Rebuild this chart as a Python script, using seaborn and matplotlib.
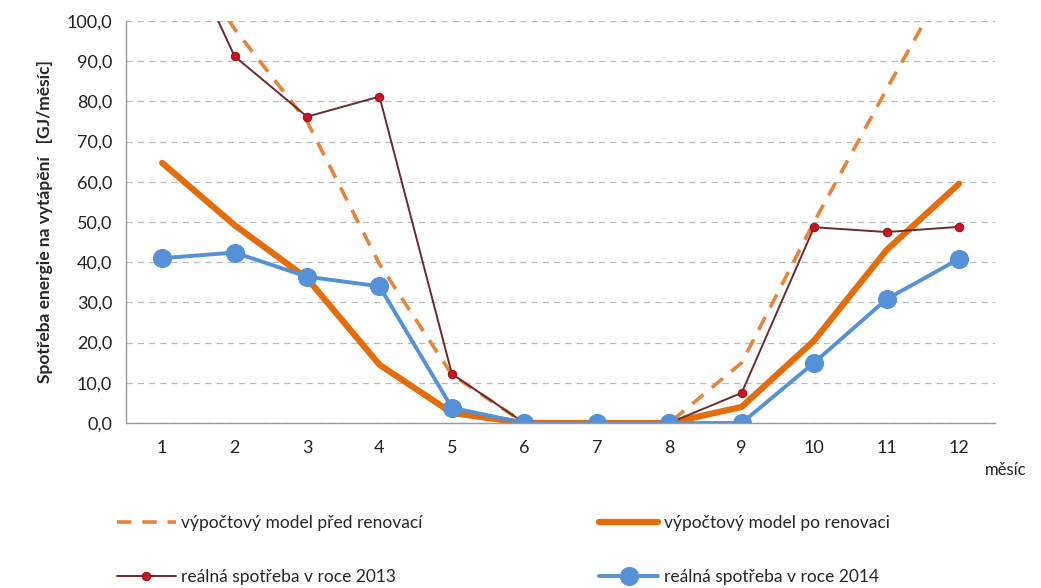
import numpy as np
import matplotlib
matplotlib.use("Agg")
import matplotlib.pyplot as plt
import seaborn as sns
from matplotlib.ticker import FuncFormatter, FixedLocator

# data
months = [1, 2, 3, 4, 5, 6, 7, 8, 9, 10, 11, 12]
model_before = [125.0, 98.0, 75.0, 39.5, 12.0, 0.0, 0.0, 0.0, 15.0, 50.0, 83.0, 115.0]
model_after = [64.7, 49.2, 36.0, 14.5, 2.5, 0.0, 0.0, 0.0, 4.0, 20.5, 43.0, 59.5]
real_2013 = [130.0, 91.2, 76.2, 81.2, 12.2, 0.0, 0.0, 0.0, 7.5, 48.7, 47.5, 48.8]
real_2014 = [41.0, 42.4, 36.4, 34.0, 3.8, 0.0, 0.0, 0.0, 0.0, 15.0, 30.8, 40.8]

labels = ["výpočtový model před renovací", "výpočtový model po renovaci",
          "reálná spotřeba v roce 2013", "reálná spotřeba v roce 2014"]

sns.set_style("white")
plt.rcParams['font.family'] = ['Lato', 'DejaVu Sans']

fig = plt.figure(figsize=(10.41, 5.88), dpi=100)
ax = fig.add_axes([0.121, 0.2806, 0.835, 0.6837])

# dashed model before renovation
sns.lineplot(x=months, y=model_before, ax=ax, color="#E8843A", lw=2.6,
             dashes=False, label=labels[0])
ax.lines[-1].set_linestyle((0, (4, 3)))
sns.lineplot(x=months, y=model_after, ax=ax, color="#E46C0A", lw=4.5,
             label=labels[1])
sns.lineplot(x=months, y=real_2013, ax=ax, color="#6B2A2E", lw=1.4,
             marker="o", markersize=6, markerfacecolor="#D40F1E",
             markeredgecolor="#8B1A1A", markeredgewidth=0.8, label=labels[2])
sns.lineplot(x=months, y=real_2014, ax=ax, color="#5591D6", lw=2.8,
             marker="o", markersize=13, markerfacecolor="#5591D6",
             markeredgecolor="#5591D6", label=labels[3])

ax.set_xlim(0.5, 12.5)
ax.set_ylim(0, 100)
ax.set_yticks(np.arange(0, 101, 10))
ax.yaxis.set_major_formatter(FuncFormatter(lambda v, p: f"{v:.1f}".replace(".", ",")))
ax.set_xticks(months)
ax.set_xticklabels([str(m) for m in months])
ax.xaxis.set_minor_locator(FixedLocator(np.arange(0.5, 13, 1)))
ax.tick_params(axis="x", which="major", length=0, pad=12, labelsize=13, colors="#222222")
ax.tick_params(axis="x", which="minor", length=6, width=1, color="#999999", direction="out")
ax.tick_params(axis="y", length=0, pad=10, labelsize=13, colors="#222222")

ax.grid(axis="y", linestyle=(0, (5, 4)), color="#BBBBBB", lw=0.9)
ax.grid(axis="x", visible=False)
for side in ["top", "right"]:
    ax.spines[side].set_visible(False)
for side in ["left", "bottom"]:
    ax.spines[side].set_color("#999999")
    ax.spines[side].set_linewidth(1)
ax.set_axisbelow(True)

ax.set_xlabel("")
ax.set_ylabel("Spotřeba energie na vytápění   [GJ/měsíc]", fontsize=12.5,
              fontweight="bold", labelpad=10)
fig.text(0.966, 0.2, "měsíc", fontsize=12, ha="center", va="center", color="#222222")

handles, lbls = ax.get_legend_handles_labels()
ax.get_legend().remove()
order = [0, 2, 1, 3]  # row-wise filling of the two-column legend
fig.legend([handles[i] for i in order], [lbls[i] for i in order],
           loc="center left", bbox_to_anchor=(0.097, 0.065),
           ncol=2, frameon=False, fontsize=12.5, handlelength=3.4,
           handletextpad=0.3, columnspacing=10.2, labelspacing=2.2)

fig.savefig("out.png", dpi=100)
